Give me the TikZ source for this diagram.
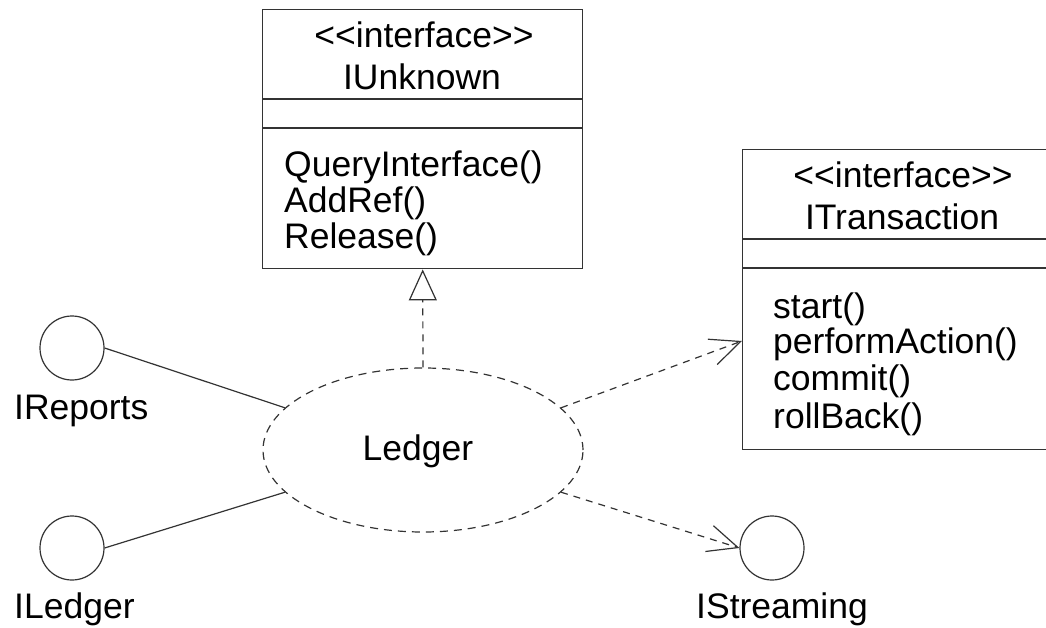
\documentclass[tikz,border=0pt]{standalone}
\usepackage{fontspec}
\setmainfont{Liberation Sans}
\usetikzlibrary{arrows.meta,shapes.geometric,calc}
\colorlet{ink}{black!80}
\newcommand{\stereo}[1]{<\kern0pt<#1>\kern0pt>}
\tikzset{
  classbox/.style={draw=ink, line width=1.4pt, rectangle, inner sep=0pt, anchor=north west},
  iface/.style={draw=ink, line width=1.2pt, circle, minimum size=64pt, inner sep=0pt},
  comp/.style={draw=ink, line width=1.2pt, ellipse, minimum width=320pt, minimum height=164pt, inner sep=0pt,
    dash pattern=on 8pt off 6pt},
  txt/.style={inner sep=0pt, anchor=base west, text=black},
  ctxt/.style={inner sep=0pt, anchor=base, text=black},
  assoc/.style={draw=ink, line width=1.2pt},
  dep/.style={draw=ink, line width=1.2pt, dash pattern=on 7pt off 6pt,
    -{Straight Barb[length=30pt, width=27pt]}},
  realize/.style={draw=ink, line width=1.2pt, dash pattern=on 7pt off 6pt,
    -{Triangle[open, length=31pt, width=28pt, fill=white]}},
}
\begin{document}
\begin{tikzpicture}[x=1pt, y=-1pt, font=\fontsize{35.5}{36}\selectfont]
\useasboundingbox (0,0) rectangle (1046,628);

% IUnknown interface class
\node[classbox, minimum width=320pt, minimum height=259pt] (iunk) at (262,9) {};
\draw[draw=ink, line width=1.4pt] ([yshift=-90pt]iunk.north west) -- ([yshift=-90pt]iunk.north east);
\draw[draw=ink, line width=1.4pt] ([yshift=-119pt]iunk.north west) -- ([yshift=-119pt]iunk.north east);
\node[ctxt] (iunkst) at (424,48) {\stereo{interface}};
\node[ctxt] (iunkname) at (422,90) {IUnknown};
\node[txt] (qi) at (284,177) {QueryInterface()};
\node[txt] (addref) at (284,213) {AddRef()};
\node[txt] (release) at (284,248) {Release()};

% ITransaction interface class (runs past the right edge)
\node[classbox, minimum width=320pt, minimum height=300pt] (itr) at (742,149) {};
\draw[draw=ink, line width=1.4pt] ([yshift=-90pt]itr.north west) -- ([yshift=-90pt]itr.north east);
\draw[draw=ink, line width=1.4pt] ([yshift=-119pt]itr.north west) -- ([yshift=-119pt]itr.north east);
\node[ctxt] (itrst) at (903,188) {\stereo{interface}};
\node[ctxt] (itrname) at (902,230) {ITransaction};
\node[txt] (start) at (773,318) {start()};
\node[txt] (perf) at (773,353) {performAction()};
\node[txt] (commit) at (773,390) {commit()};
\node[txt] (rollback) at (773,428) {rollBack()};

% Ledger component
\node[comp] (ledger) at (423,450) {};
\node[ctxt] (ledgername) at (418,460) {Ledger};

% Lollipop interfaces
\node[iface] (irep) at (72,348) {};
\node[txt] (ireplbl) at (14,419) {IReports};
\node[iface] (iled) at (72,548) {};
\node[txt] (iledlbl) at (14,618) {ILedger};
\node[iface] (istr) at (772,548) {};
\node[txt] (istrlbl) at (696,618) {IStreaming};

% Connectors
\draw[assoc] (irep.east) -- (ledger.163);
\draw[assoc] (iled.east) -- (ledger.197);
\draw[realize] (ledger.north) -- (iunk.south);
\draw[dep] (ledger.17) -- ($(itr.north west)!0.637!(itr.south west)$);
\draw[dep] (ledger.-17) -- (istr.west);
\end{tikzpicture}
\end{document}
